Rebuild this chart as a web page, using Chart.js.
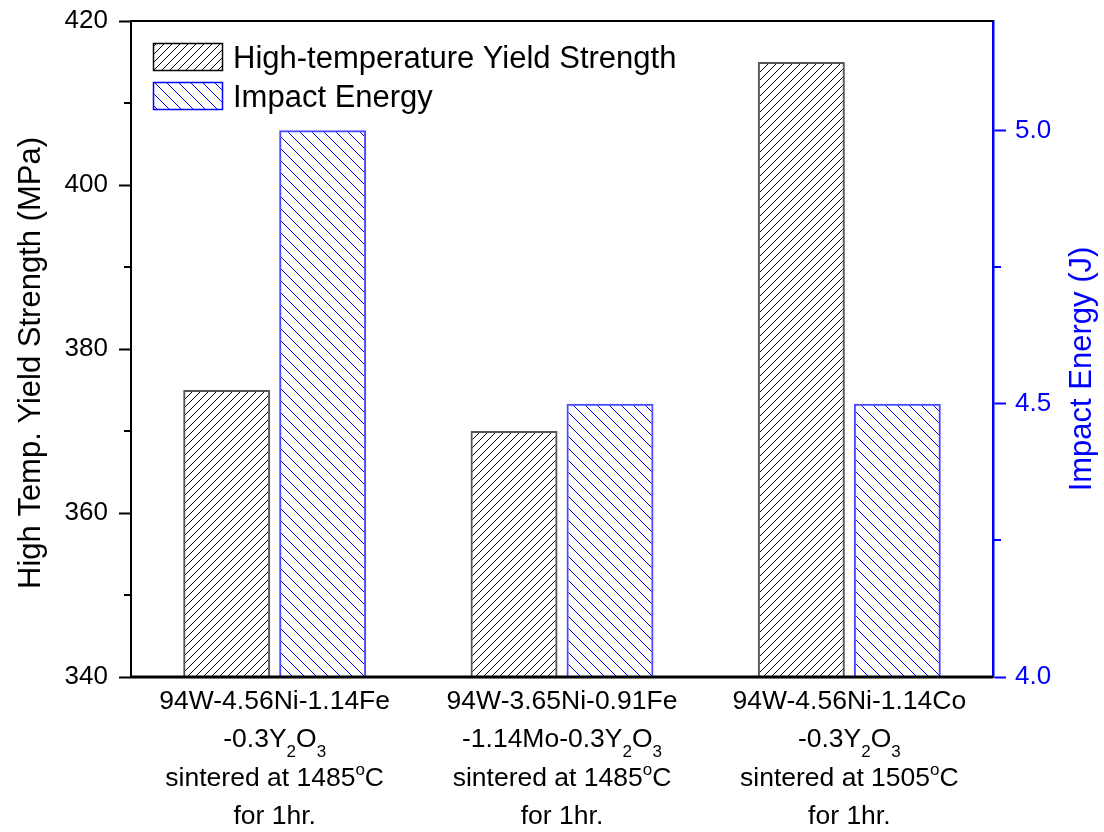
<!DOCTYPE html>
<html>
<head>
<meta charset="utf-8">
<script src="https://cdn.jsdelivr.net/npm/chart.js@4.4.1/dist/chart.umd.min.js"></script>
<style>
body{margin:0;background:#fff;}
canvas{display:block;}
</style>
</head>
<body>
<canvas id="chart" width="1104" height="832"></canvas>
<script>
// alloy labels, "_x" = subscript char, "^x" = superscript char
const categories = [
["94W-4.56Ni-1.14Fe","-0.3Y_2O_3","sintered at 1485^oC","for 1hr."],
["94W-3.65Ni-0.91Fe","-1.14Mo-0.3Y_2O_3","sintered at 1485^oC","for 1hr."],
["94W-4.56Ni-1.14Co","-0.3Y_2O_3","sintered at 1505^oC","for 1hr."]
];

const seriesNames = ["High-temperature Yield Strength","Impact Energy"];

const yieldStrength = [375,370,415];   // MPa
const impactEnergy = [5.0,4.5,4.5];    // J

const leftTicks = {min:340,max:420,step:20,minor:[350,370,390,410]};
const rightTicks = {min:4.0,max:5.2,step:0.5,minor:[4.25,4.75]};

const FONT = "'Liberation Sans', Arial, Helvetica, sans-serif";
const BLUE = "#0000ff";

function hatch(size,color,dir){
const c=document.createElement("canvas");
c.width=size;c.height=size;
const g=c.getContext("2d");
g.strokeStyle=color;
g.lineWidth=1;
g.beginPath();
if(dir==="/"){
g.moveTo(0,size);g.lineTo(size,0);
g.moveTo(-size/2,size/2);g.lineTo(size/2,-size/2);
g.moveTo(size/2,size*1.5);g.lineTo(size*1.5,size/2);
}else{
g.moveTo(0,0);g.lineTo(size,size);
g.moveTo(-size/2,size/2);g.lineTo(size/2,size*1.5);
g.moveTo(size/2,-size/2);g.lineTo(size*1.5,size/2);
}
g.stroke();
return document.getElementById("chart").getContext("2d").createPattern(c,"repeat");
}

const blackHatch = hatch(8,"#000","/");
const blueHatch = hatch(12,BLUE,"\\");

const styles = [
{fill:blackHatch,border:"#555",key:"#000"},
{fill:blueHatch,border:"#4a4aff",key:BLUE}
];

// draws text with simple sub/superscript markup, centred on cx
function richText(ctx,str,cx,y,size){
const parts=[];
for(let i=0;i<str.length;i++){
const ch=str[i];
if((ch==="_"||ch==="^")&&i+1<str.length){
parts.push({t:str[i+1],k:ch});i++;
}else{
if(parts.length&&parts[parts.length-1].k==="n") parts[parts.length-1].t+=ch;
else parts.push({t:ch,k:"n"});
}
}
const small=Math.round(size*0.64);
let w=0;
parts.forEach(p=>{
ctx.font=(p.k==="n"?size:small)+"px "+FONT;
p.w=ctx.measureText(p.t).width;
w+=p.w;
});
let x=cx-w/2;
ctx.textAlign="left";
ctx.textBaseline="alphabetic";
parts.forEach(p=>{
ctx.font=(p.k==="n"?size:small)+"px "+FONT;
let dy=0;
if(p.k==="_") dy=10;
if(p.k==="^") dy=-11;
ctx.fillText(p.t,x,y+dy);
x+=p.w;
});
}

const decorations = {
id:"decorations",
afterDraw(chart){
const ctx=chart.ctx;
const a=chart.chartArea;
const x=chart.scales.x, yl=chart.scales.y, yr=chart.scales.y1;
ctx.save();

// frame: top and bottom lines
ctx.strokeStyle="#000";
ctx.lineWidth=2;
ctx.beginPath();
ctx.moveTo(a.left-1,a.top);ctx.lineTo(a.right,a.top);
ctx.stroke();
ctx.lineWidth=3;
ctx.beginPath();
ctx.moveTo(a.left-1,a.bottom);ctx.lineTo(a.right,a.bottom);
ctx.stroke();

// minor ticks
ctx.lineWidth=2;
ctx.strokeStyle="#000";
leftTicks.minor.forEach(v=>{
const py=Math.round(yl.getPixelForValue(v));
ctx.beginPath();ctx.moveTo(a.left,py);ctx.lineTo(a.left-7,py);ctx.stroke();
});
ctx.strokeStyle=BLUE;
rightTicks.minor.forEach(v=>{
const py=Math.round(yr.getPixelForValue(v));
ctx.beginPath();ctx.moveTo(a.right,py);ctx.lineTo(a.right+8,py);ctx.stroke();
});

// axis titles
ctx.font="31px "+FONT;
ctx.textAlign="center";
ctx.textBaseline="alphabetic";
ctx.fillStyle="#000";
ctx.save();
ctx.translate(40,363);ctx.rotate(-Math.PI/2);
ctx.fillText("High Temp. Yield Strength (MPa)",0,0);
ctx.restore();
ctx.fillStyle=BLUE;
ctx.save();
ctx.translate(1091,369);ctx.rotate(-Math.PI/2);
ctx.fillText("Impact Energy (J)",0,0);
ctx.restore();

// category labels
ctx.fillStyle="#000";
categories.forEach((lines,i)=>{
const cx=x.getPixelForValue(i);
lines.forEach((ln,j)=>{
richText(ctx,ln,cx,709+j*38.3,26.5);
});
});

// legend
seriesNames.forEach((name,i)=>{
const bx=153, by=43+i*39, bw=69, bh=27;
ctx.fillStyle=styles[i].fill;
ctx.fillRect(bx,by,bw,bh);
ctx.strokeStyle=styles[i].key;
ctx.lineWidth=1.5;
ctx.strokeRect(bx+0.5,by+0.5,bw,bh);
ctx.fillStyle="#000";
ctx.font="31px "+FONT;
ctx.textAlign="left";
ctx.textBaseline="alphabetic";
ctx.fillText(name,233,by+25);
});

ctx.restore();
}
};

// fixed axis box, no extra label overhang padding
function fixWidth(w){
return s=>{
s.width=w;
s.paddingTop=0;
s.paddingBottom=0;
};
}

new Chart(document.getElementById("chart"),{
type:"bar",
data:{
labels:categories,
datasets:[
{
label:seriesNames[0],
data:yieldStrength,
yAxisID:"y",
backgroundColor:styles[0].fill,
borderColor:styles[0].border,
borderWidth:2
},
{
label:seriesNames[1],
data:impactEnergy,
yAxisID:"y1",
backgroundColor:styles[1].fill,
borderColor:styles[1].border,
borderWidth:2
}
]
},
options:{
responsive:false,
devicePixelRatio:1,
animation:false,
layout:{padding:{top:21,left:0,right:0,bottom:0}},
datasets:{bar:{barPercentage:0.906,categoryPercentage:0.668}},
plugins:{legend:{display:false},tooltip:{enabled:false}},
scales:{
x:{
grid:{display:false},
border:{display:false},
ticks:{display:false},
afterFit:s=>{s.height=155;s.paddingLeft=0;s.paddingRight=0;}
},
y:{
position:"left",
min:leftTicks.min,
max:leftTicks.max,
ticks:{stepSize:leftTicks.step,color:"#000",padding:11,font:{family:FONT,size:26}},
grid:{drawOnChartArea:false,tickLength:12,tickWidth:2,tickColor:"#000"},
border:{display:true,color:"#000",width:2},
afterFit:fixWidth(131)
},
y1:{
position:"right",
min:rightTicks.min,
max:rightTicks.max,
ticks:{stepSize:rightTicks.step,includeBounds:false,color:BLUE,padding:9,font:{family:FONT,size:26},
callback:v=>v.toFixed(1)},
grid:{drawOnChartArea:false,tickLength:13,tickWidth:2,tickColor:BLUE},
border:{display:true,color:BLUE,width:2.5},
afterFit:fixWidth(111)
}
}
},
plugins:[decorations]
});
</script>
</body>
</html>
